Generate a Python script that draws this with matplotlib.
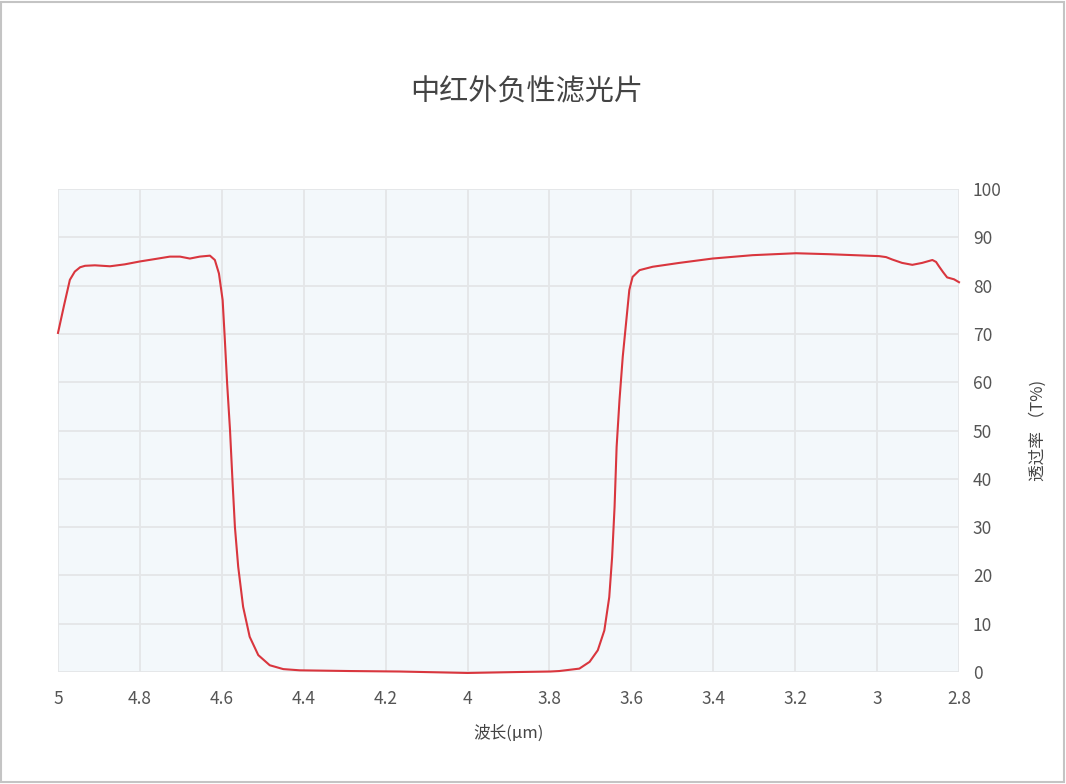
import numpy as np
import matplotlib.pyplot as plt
from matplotlib.patches import Rectangle

plt.rcParams['font.family'] = ['Noto Sans CJK SC', 'DejaVu Sans']

# wavelength (um) and transmittance (%)
wavelength = [5.000, 4.985, 4.971, 4.959, 4.946, 4.934, 4.910, 4.873, 4.837,
              4.800, 4.763, 4.727, 4.702, 4.678, 4.654, 4.629, 4.617, 4.607,
              4.598, 4.593, 4.587, 4.580, 4.574, 4.568, 4.560, 4.548, 4.532,
              4.511, 4.483, 4.450, 4.410, 4.288, 4.166, 4.000, 3.873, 3.798,
              3.776, 3.727, 3.702, 3.682, 3.666, 3.654, 3.647, 3.641, 3.636,
              3.629, 3.621, 3.613, 3.605, 3.597, 3.580, 3.548, 3.483, 3.402,
              3.304, 3.198, 3.117, 2.995, 2.978, 2.963, 2.939, 2.914, 2.890,
              2.865, 2.856, 2.849, 2.839, 2.829, 2.812, 2.800]
transmit = [70.2, 76.0, 81.2, 82.9, 83.8, 84.1, 84.2, 84.0, 84.4,
            85.0, 85.5, 86.0, 86.0, 85.6, 86.0, 86.2, 85.3, 82.5,
            77.0, 69.4, 59.7, 50.1, 39.7, 30.0, 21.8, 13.5, 7.3,
            3.5, 1.4, 0.6, 0.35, 0.2, 0.1, -0.2, 0.0, 0.1,
            0.2, 0.7, 2.1, 4.5, 8.6, 15.5, 23.8, 34.2, 46.6,
            56.3, 65.3, 72.2, 79.1, 81.8, 83.2, 83.9, 84.7, 85.6,
            86.3, 86.7, 86.5, 86.1, 85.9, 85.4, 84.7, 84.3, 84.7,
            85.3, 84.9, 84.0, 82.8, 81.7, 81.3, 80.7]

x_ticks = [5, 4.8, 4.6, 4.4, 4.2, 4, 3.8, 3.6, 3.4, 3.2, 3, 2.8]
x_labels = ['5', '4.8', '4.6', '4.4', '4.2', '4', '3.8', '3.6', '3.4', '3.2', '3', '2.8']
y_ticks = [0, 10, 20, 30, 40, 50, 60, 70, 80, 90, 100]

fig = plt.figure(figsize=(10.66, 7.84), dpi=100)
fig.patches.append(Rectangle((0.001, 0.002), 0.997, 0.996, transform=fig.transFigure,
                             fill=False, edgecolor='#c4c4c4', linewidth=1.5))

ax = fig.add_axes([58 / 1066, 112 / 784, 901 / 1066, 483 / 784])
ax.set_facecolor('#f3f8fb')
ax.plot(wavelength, transmit, color='#d9363e', linewidth=1.5,
        solid_joinstyle='round', clip_on=False)

ax.set_xlim(5, 2.8)
ax.set_ylim(0, 100)
ax.set_xticks(x_ticks)
ax.set_xticklabels(x_labels)
ax.set_yticks(y_ticks)
ax.yaxis.tick_right()
ax.yaxis.set_label_position('right')
ax.grid(True, color='#e4e6e8', linewidth=1.3)
ax.set_axisbelow(True)
for s in ax.spines.values():
    s.set_visible(False)
ax.tick_params(axis='both', length=0, labelsize=12.5, labelcolor='#555555')
ax.tick_params(axis='x', pad=13)
ax.tick_params(axis='y', pad=10)

ax.set_xlabel('波长(μm)', fontsize=12, color='#444444', labelpad=12)
ax.set_ylabel('透过率 （T%)', fontsize=12, color='#444444', labelpad=20, rotation=90)

fig.text(527 / 1066, 1 - 92 / 784, '中红外负性滤光片', fontsize=21, color='#444444',
         ha='center', va='center')

fig.savefig('out.png', dpi=100)
